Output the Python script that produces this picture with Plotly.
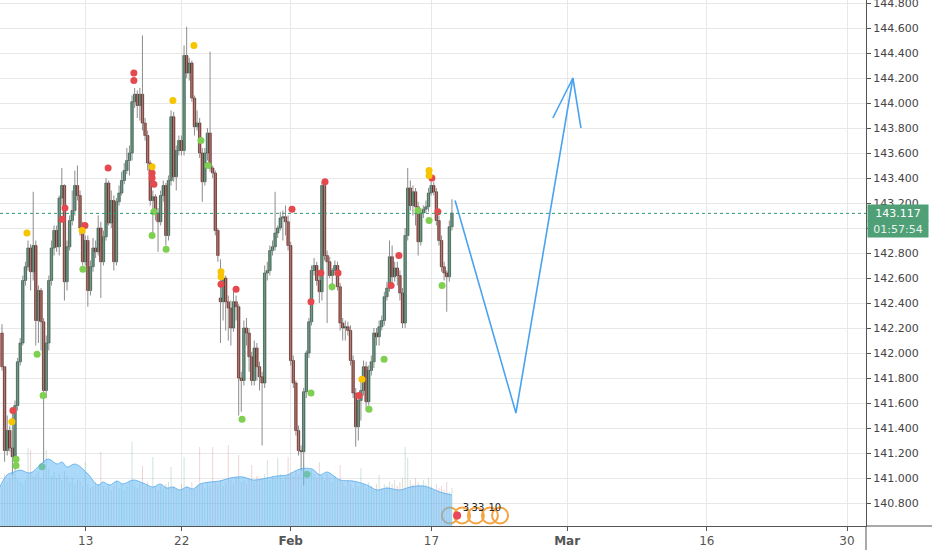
import plotly.graph_objects as go

# ---------------- data ----------------
opens = [142.16,141.89,141.22,141.38,141.24,141.17,141.58,141.93,142.08,142.58,
 142.69,142.84,142.65,142.86,142.26,142.50,142.25,141.70,142.08,142.58,
 142.84,142.98,142.85,143.24,143.34,142.57,142.85,143.06,143.14,143.34,
 143.26,143.00,142.73,142.90,142.50,142.69,142.84,142.81,143.00,142.73,
 142.93,143.36,143.04,143.22,142.73,143.21,143.28,143.38,143.46,143.54,
 143.60,144.01,144.07,143.98,144.07,143.84,143.74,143.52,143.22,143.25,
 143.12,143.05,143.26,143.34,142.94,143.38,143.89,143.41,143.62,143.70,
 143.62,144.38,144.24,144.32,144.04,143.81,143.84,143.60,143.37,143.60,
 143.76,143.48,143.44,142.98,142.44,142.41,142.60,142.41,142.36,142.20,
 142.41,142.37,141.80,141.78,142.20,142.16,141.97,141.78,142.04,141.89,
 141.81,141.76,142.64,142.66,142.82,142.85,142.96,143.00,143.08,143.09,
 143.05,142.86,141.94,141.76,141.38,141.22,141.21,141.69,142.00,142.25,
 142.66,142.70,142.58,142.49,143.34,142.78,142.73,142.62,142.66,142.70,
 142.53,142.24,142.20,142.21,142.18,141.94,141.68,141.41,141.62,141.70,
 141.89,141.61,141.86,141.93,142.16,142.13,142.21,142.26,142.45,142.52,
 142.77,142.61,142.68,142.62,142.48,142.24,142.94,143.32,143.18,143.29,
 143.17,142.89,143.12,143.15,143.17,143.28,143.34,143.29,143.06,142.90,
 142.69,142.64,142.61,143.01]
highs = [142.23,141.89,141.50,141.42,141.54,141.62,141.96,142.12,142.62,142.73,
 142.90,142.87,143.29,142.90,142.54,142.52,142.28,142.14,142.62,142.90,
 143.02,143.02,143.26,143.48,143.35,142.90,143.10,143.30,143.46,143.50,
 143.30,143.05,142.94,142.94,142.74,142.92,142.90,143.10,143.05,142.98,
 143.40,143.38,143.30,143.26,143.24,143.34,143.45,143.52,143.64,143.66,
 144.06,144.12,144.10,144.12,144.54,143.88,143.78,143.54,143.30,143.27,
 143.16,143.30,143.38,143.36,143.42,143.94,143.93,143.66,143.74,143.74,
 144.46,144.61,144.36,144.34,144.06,143.94,143.88,143.64,143.64,143.80,
 144.41,143.50,143.46,143.00,142.75,142.66,142.62,142.46,142.42,142.50,
 142.46,142.39,141.85,142.26,142.28,142.20,142.01,142.10,142.08,141.93,
 141.85,142.70,142.73,142.86,142.90,143.29,143.02,143.13,143.14,143.18,
 143.10,142.89,141.98,141.78,141.42,141.26,141.72,142.02,142.28,142.70,
 142.76,142.73,142.62,143.37,143.36,142.82,142.77,142.68,142.74,142.73,
 142.56,142.28,142.26,142.25,142.22,141.98,141.72,141.66,141.78,141.94,
 141.93,141.90,141.98,142.20,142.20,142.26,142.30,142.49,142.57,142.90,
 142.86,142.73,142.73,142.66,142.52,143.00,143.48,143.38,143.34,143.32,
 143.21,143.16,143.18,143.22,143.32,143.38,143.37,143.32,143.10,142.94,
 142.73,142.66,143.06,143.23]
lows = [141.86,141.13,141.18,141.21,141.02,141.06,141.54,141.90,142.06,142.54,
 142.66,142.50,142.58,142.06,142.08,142.02,141.12,141.64,142.02,142.54,
 142.78,142.81,142.78,143.18,142.42,142.50,142.82,143.02,143.10,143.22,
 142.94,142.70,142.70,142.37,142.46,142.65,142.76,142.78,142.44,142.70,
 142.90,143.02,143.00,142.66,142.70,143.18,143.26,143.35,143.43,143.42,
 143.54,143.96,143.88,143.86,143.78,143.70,143.46,143.18,142.94,143.06,
 142.81,143.02,143.21,142.86,142.90,143.34,143.37,143.30,143.58,143.58,
 143.58,144.20,144.18,144.01,143.74,143.78,143.56,143.21,143.34,143.54,
 143.45,143.40,142.94,142.73,142.08,142.26,142.18,142.10,142.06,142.17,
 142.26,141.50,141.53,141.74,142.06,141.85,141.74,141.74,141.78,141.70,
 141.26,141.72,142.58,142.62,142.78,142.82,142.92,142.98,142.90,142.94,
 142.82,141.90,141.72,141.34,141.18,141.06,140.94,141.64,141.96,142.22,
 142.62,142.54,142.40,142.42,142.74,142.24,142.60,142.50,142.62,142.50,
 142.18,142.10,142.10,142.14,141.90,141.64,141.25,141.30,141.46,141.66,
 141.54,141.58,141.82,141.88,142.06,142.06,142.18,142.22,142.42,142.49,
 142.54,142.57,142.54,142.42,142.20,142.20,142.90,143.14,143.10,143.02,
 142.78,142.86,143.08,143.12,143.13,143.26,143.26,143.02,142.86,142.65,
 142.58,142.33,142.57,142.98]
closes = [141.89,141.22,141.38,141.24,141.17,141.58,141.93,142.08,142.58,142.69,
 142.84,142.65,142.86,142.26,142.50,142.25,141.70,142.08,142.58,142.84,
 142.98,142.85,143.24,143.34,142.57,142.85,143.06,143.14,143.34,143.26,
 143.00,142.73,142.90,142.50,142.69,142.84,142.81,143.00,142.73,142.93,
 143.36,143.04,143.22,142.73,143.21,143.28,143.38,143.46,143.54,143.60,
 144.01,144.07,143.98,144.07,143.84,143.74,143.52,143.22,143.25,143.12,
 143.05,143.26,143.34,142.94,143.38,143.89,143.41,143.62,143.70,143.62,
 144.38,144.24,144.32,144.04,143.81,143.84,143.60,143.37,143.60,143.76,
 143.48,143.44,142.98,142.78,142.41,142.60,142.41,142.36,142.20,142.41,
 142.37,141.80,141.78,142.20,142.16,141.97,141.78,142.04,141.89,141.81,
 141.76,142.64,142.66,142.82,142.85,142.96,143.00,143.08,143.09,143.05,
 142.86,141.94,141.76,141.38,141.22,141.21,141.69,142.00,142.25,142.66,
 142.70,142.58,142.49,143.34,142.78,142.73,142.62,142.66,142.70,142.53,
 142.24,142.20,142.21,142.18,141.94,141.68,141.41,141.62,141.70,141.89,
 141.61,141.86,141.93,142.16,142.13,142.21,142.26,142.45,142.52,142.77,
 142.61,142.68,142.62,142.48,142.24,142.94,143.32,143.18,143.29,143.17,
 142.89,143.12,143.15,143.17,143.28,143.34,143.29,143.06,142.90,142.69,
 142.64,142.61,143.01,143.12]

volumes = [40,52,45,48,50,55,47,44,42,46,
 78,76,50,52,55,48,60,76,58,50,
 54,48,52,46,55,50,44,48,42,46,
 45,40,64,42,38,40,44,42,74,40,
 38,42,36,40,44,38,42,36,40,44,
 84,40,38,42,60,40,44,38,69,40,
 36,40,38,42,44,59,40,38,36,42,
 69,40,38,44,36,40,79,42,38,44,
 40,79,44,42,46,40,44,81,46,42,
 48,71,44,46,42,48,61,44,50,46,
 48,52,66,46,50,48,68,52,46,50,
 69,54,50,56,52,58,62,54,50,56,
 52,48,64,50,46,52,48,44,50,46,
 61,44,40,46,42,38,44,40,58,42,
 38,44,40,36,42,51,38,42,40,44,
 42,46,40,44,48,79,68,46,42,48,
 44,40,46,42,48,40,36,42,38,40,
 36,44,34,38]

vol_ma_x = [-0.8,1.9,4.6,6.9,10.8,14.6,17.7,21.2,23.1,25.0,28.1,32.7,36.9,38.8,41.5,
 44.2,46.5,50.4,54.2,58.1,60.8,63.4,65.7,68.4,71.1,73.4,76.1,80.0,83.8,87.7,
 92.7,96.5,101.9,105.7,109.6,114.6,119.2,122.3,125.0,130.0,135.0,140.3,144.2,148.0,
 153.0,156.9,161.9,165.7,168.4,173.0]
vol_ma = [39,51,54,56,53,61,67,62,64,59,62,53,41,44,41,
 45,42,46,43,39,42,38,39,36,39,37,42,44,45,48,
 49,46,48,50,51,57,57,51,54,46,45,41,36,38,
 36,39,40,37,34,31]

red_dot_x = [4.2,24.2,23.1,31.9,40.8,50.7,50.7,57.7,57.7,58.4,84.2,90.0,111.5,118.8,
 122.6,124.2,129.2,137.3,149.6,152.6,165.3,167.6]
red_dot_y = [141.54,143.16,143.07,143.02,143.48,144.24,144.18,143.44,143.40,143.35,142.55,
 142.51,143.15,142.41,142.64,143.37,142.64,141.66,142.54,142.78,143.40,143.13]
yellow_dot_x = [3.8,9.6,30.8,57.7,65.7,73.8,84.2,84.2,138.4,164.2,164.2]
yellow_dot_y = [141.45,142.96,142.98,143.49,144.02,144.46,142.65,142.61,141.79,143.46,143.42]
green_dot_x = [5.4,5.4,13.5,15.8,15.4,31.1,57.7,58.4,63.1,76.5,79.2,92.3,117.3,118.8,
 126.9,141.1,146.9,159.9,164.2,169.2]
green_dot_y = [141.15,141.10,141.99,141.66,141.09,142.67,142.94,143.13,142.83,143.70,
 143.50,141.47,141.03,141.68,142.53,141.55,141.95,143.14,143.06,142.54]

proj_x = [174.2, 197.6, 219.5]
proj_y = [143.22, 141.52, 144.20]
arrow_x = [211.8, 219.5, 222.6]
arrow_y = [143.88, 144.20, 143.80]

tick_pos = [32.2, 69.1, 111.0, 165.1, 217.3, 271.0, 324.9]
tick_text = ["13", "22", "<b>Feb</b>", "17", "<b>Mar</b>", "16", "30"]

last_price = 143.117
countdown = "01:57:54"
event_x = [172.2, 176.9, 182.2, 187.6, 191.5]
event_text_x = [178.4, 183.0, 189.5]
event_text = ["3", "33", "10"]

# ---------------- figure ----------------
n = len(closes)
idx = list(range(n))
up = [c >= o for o, c in zip(opens, closes)]

fig = go.Figure()

# faint volume bars
fig.add_trace(go.Bar(
    x=idx, y=volumes, yaxis="y2", width=0.35,
    marker=dict(color=["rgba(110,170,140,0.35)" if u else "rgba(200,120,120,0.35)" for u in up],
                line=dict(width=0)),
    hoverinfo="skip"))
# volume moving-average area
fig.add_trace(go.Scatter(
    x=vol_ma_x, y=vol_ma, yaxis="y2", mode="lines",
    line=dict(color="rgba(90,170,235,0.8)", width=1, shape="spline"),
    fill="tozeroy", fillcolor="rgba(100,185,245,0.55)", hoverinfo="skip"))

# wicks
wx, wy = [], []
for i in idx:
    wx += [i, i, None]
    wy += [lows[i], highs[i], None]
fig.add_trace(go.Scatter(x=wx, y=wy, mode="lines", line=dict(color="#8c8c8c", width=1), hoverinfo="skip"))

# bodies
base = [min(o, c) for o, c in zip(opens, closes)]
hgt = [max(abs(c - o), 0.008) for o, c in zip(opens, closes)]
fig.add_trace(go.Bar(
    x=idx, y=hgt, base=base, width=0.95,
    marker=dict(color=["#3f8d67" if u else "#b2392c" for u in up],
                line=dict(color=["#1d4232" if u else "#4f1410" for u in up], width=0.6)),
    hoverinfo="skip"))

# signal dots
for xs, ys, col in [(red_dot_x, red_dot_y, "#e5484d"), (yellow_dot_x, yellow_dot_y, "#f6c400"),
                    (green_dot_x, green_dot_y, "#7fcf50")]:
    fig.add_trace(go.Scatter(x=xs, y=ys, mode="markers",
                             marker=dict(color=col, size=7, line=dict(width=0)), hoverinfo="skip"))

# projection path
fig.add_trace(go.Scatter(x=proj_x, y=proj_y, mode="lines", line=dict(color="#4aa3f0", width=1.6), hoverinfo="skip"))
fig.add_trace(go.Scatter(x=arrow_x, y=arrow_y, mode="lines", line=dict(color="#4aa3f0", width=1.6), hoverinfo="skip"))

# event badges near bottom
fig.add_trace(go.Scatter(x=event_x, y=[140.70] * len(event_x), mode="markers",
                         marker=dict(symbol="circle-open", size=16, color="#f4a340", line=dict(width=2)),
                         hoverinfo="skip"))
fig.add_trace(go.Scatter(x=[175.0], y=[140.70], mode="markers",
                         marker=dict(color="#e8475a", size=8), hoverinfo="skip"))
fig.add_trace(go.Scatter(x=event_text_x, y=[140.76] * 3, mode="text", text=event_text,
                         textfont=dict(size=10, color="#222", family="DejaVu Sans"), hoverinfo="skip"))

fig.update_layout(
    width=932, height=550,
    margin=dict(l=0, r=66, t=0, b=24, autoexpand=False),
    plot_bgcolor="white", paper_bgcolor="white",
    showlegend=False, barmode="overlay",
    font=dict(family="DejaVu Sans", color="#444"),
    xaxis=dict(range=[-0.77, 332.2], tickvals=tick_pos, ticktext=tick_text, automargin=False,
               ticklabeloverflow="allow",
               showgrid=True, gridcolor="#e8e8e8", zeroline=False,
               showline=True, linecolor="#555", linewidth=1,
               ticks="outside", ticklen=4, tickcolor="#555",
               tickfont=dict(size=12, color="#555", family="DejaVu Sans")),
    yaxis=dict(side="right", range=[140.616, 144.824], tick0=140.8, dtick=0.2, tickformat=".3f",
               automargin=False, ticklabeloverflow="allow",
               showgrid=True, gridcolor="#e8e8e8", zeroline=False,
               showline=True, linecolor="#555", linewidth=1,
               ticks="outside", ticklen=4, tickcolor="#555",
               tickfont=dict(size=11, color="#444", family="DejaVu Sans")),
    yaxis2=dict(overlaying="y", range=[0, 526], visible=False),
    shapes=[
        dict(type="line", xref="paper", x0=0, x1=1, yref="y", y0=last_price, y1=last_price,
             line=dict(color="#2f9b74", width=1, dash="dot")),
        dict(type="line", xref="paper", x0=1, x1=1.08, yref="paper", y0=0, y1=0,
             line=dict(color="#555", width=1)),
        dict(type="line", xref="paper", x0=1, x1=1, yref="paper", y0=-0.05, y1=0,
             line=dict(color="#555", width=1)),
    ],
    annotations=[
        dict(x=1, xref="paper", xanchor="left", xshift=1, y=last_price, yref="y",
             text=f"{last_price:.3f}", showarrow=False, bgcolor="#4f9f77", width=58, height=14,
             borderpad=1, font=dict(color="white", size=11, family="DejaVu Sans")),
        dict(x=1, xref="paper", xanchor="left", xshift=1, y=142.99, yref="y",
             text=countdown, showarrow=False, bgcolor="#4f9f77", width=58, height=14,
             borderpad=1, font=dict(color="#e6f4ec", size=11, family="DejaVu Sans")),
    ],
)

fig.write_html("out.html", config={"displayModeBar": False},
               post_script="document.body.style.margin='0';document.body.style.overflow='hidden';")
